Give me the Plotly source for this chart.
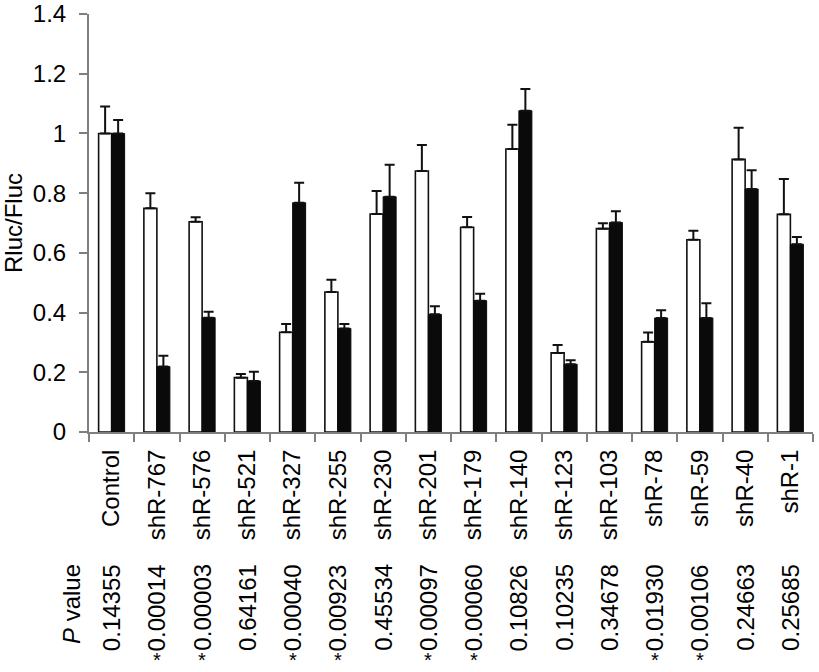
import plotly.graph_objects as go

categories = ["Control", "shR-767", "shR-576", "shR-521", "shR-327", "shR-255", "shR-230", "shR-201",
              "shR-179", "shR-140", "shR-123", "shR-103", "shR-78", "shR-59", "shR-40", "shR-1"]
white_vals = [1.00, 0.749, 0.704, 0.182, 0.334, 0.469, 0.730, 0.874, 0.686, 0.948, 0.265, 0.681, 0.302, 0.644, 0.913, 0.729]
white_err = [0.090, 0.051, 0.015, 0.012, 0.028, 0.041, 0.077, 0.087, 0.034, 0.081, 0.026, 0.018, 0.031, 0.030, 0.106, 0.118]
black_vals = [1.00, 0.219, 0.383, 0.171, 0.768, 0.347, 0.788, 0.394, 0.440, 1.076, 0.227, 0.702, 0.382, 0.382, 0.814, 0.629]
black_err = [0.045, 0.036, 0.020, 0.031, 0.067, 0.015, 0.107, 0.027, 0.023, 0.073, 0.013, 0.037, 0.026, 0.049, 0.063, 0.024]
p_values = ["0.14355", "0.00014", "0.00003", "0.64161", "0.00040", "0.00923", "0.45534", "0.00097",
            "0.00060", "0.10826", "0.10235", "0.34678", "0.01930", "0.00106", "0.24663", "0.25685"]

FONT = "Liberation Sans, Arial, sans-serif"
FS = 24
AXIS_COLOR = "#7f7f7f"

FIG_W, FIG_H = 819, 672

fig = go.Figure()
fig.add_trace(go.Bar(
    x=categories, y=white_vals, name="white",
    marker=dict(color="white", line=dict(color="#111111", width=1.6)),
    error_y=dict(type="data", array=white_err, symmetric=False, arrayminus=[0]*len(white_err),
                 color="#111111", thickness=2, width=5),
))
fig.add_trace(go.Bar(
    x=categories, y=black_vals, name="black",
    marker=dict(color="#0a0a0a", line=dict(color="#0a0a0a", width=1)),
    error_y=dict(type="data", array=black_err, symmetric=False, arrayminus=[0]*len(black_err),
                 color="#111111", thickness=2, width=5),
))

# plot area on screen: x 89..813, y 14..432
PLOT_LEFT, PLOT_RIGHT = 89, 813
PLOT_TOP, PLOT_BOTTOM = 14, 432
H = PLOT_BOTTOM - PLOT_TOP
W = PLOT_RIGHT - PLOT_LEFT

def ypaper(py):
    return (PLOT_BOTTOM - py) / H

annotations = []
for cat, p in zip(categories, p_values):
    annotations.append(dict(x=cat, xref="x", y=ypaper(562), yref="paper", text=p, textangle=-90,
                            showarrow=False, xanchor="center", yanchor="top",
                            font=dict(family=FONT, size=FS, color="black")))
    if float(p) < 0.05:
        annotations.append(dict(x=cat, xref="x", y=ypaper(672), yref="paper", text="*",
                                showarrow=False, xanchor="center", yanchor="bottom", borderpad=0,
                                font=dict(family=FONT, size=20, color="black")))
annotations.append(dict(x=(71 - PLOT_LEFT) / W, xref="paper", y=ypaper(562), yref="paper",
                        text="<i>P</i> value", textangle=-90, showarrow=False,
                        xanchor="center", yanchor="top",
                        font=dict(family=FONT, size=FS, color="black")))

fig.update_layout(
    width=FIG_W, height=FIG_H,
    margin=dict(l=PLOT_LEFT, r=FIG_W - PLOT_RIGHT, t=PLOT_TOP, b=FIG_H - PLOT_BOTTOM, autoexpand=False),
    paper_bgcolor="white", plot_bgcolor="white",
    barmode="group", bargap=0.425, bargroupgap=0,
    showlegend=False,
    font=dict(family=FONT, size=FS, color="black"),
    annotations=annotations,
    xaxis=dict(
        type="category", showgrid=False, showline=True, linecolor=AXIS_COLOR, linewidth=2,
        ticks="outside", tickson="boundaries", ticklen=8, tickcolor=AXIS_COLOR, tickwidth=2,
        tickangle=-90, ticklabelstandoff=6, tickfont=dict(family=FONT, size=FS, color="black"),
    ),
    yaxis=dict(
        range=[0, 1.4], dtick=0.2, tick0=0, showgrid=False, zeroline=False,
        showline=True, linecolor=AXIS_COLOR, linewidth=2,
        ticks="outside", ticklen=8, tickcolor=AXIS_COLOR, tickwidth=2,
        ticklabelstandoff=8, tickfont=dict(family=FONT, size=FS, color="black"),
        title=dict(text="Rluc/Fluc", standoff=6, font=dict(family=FONT, size=FS, color="black")),
    ),
)

fig.write_html("out.html", config={"displayModeBar": False},
               post_script="document.body.style.margin='0px'; document.body.style.overflow='hidden';")
